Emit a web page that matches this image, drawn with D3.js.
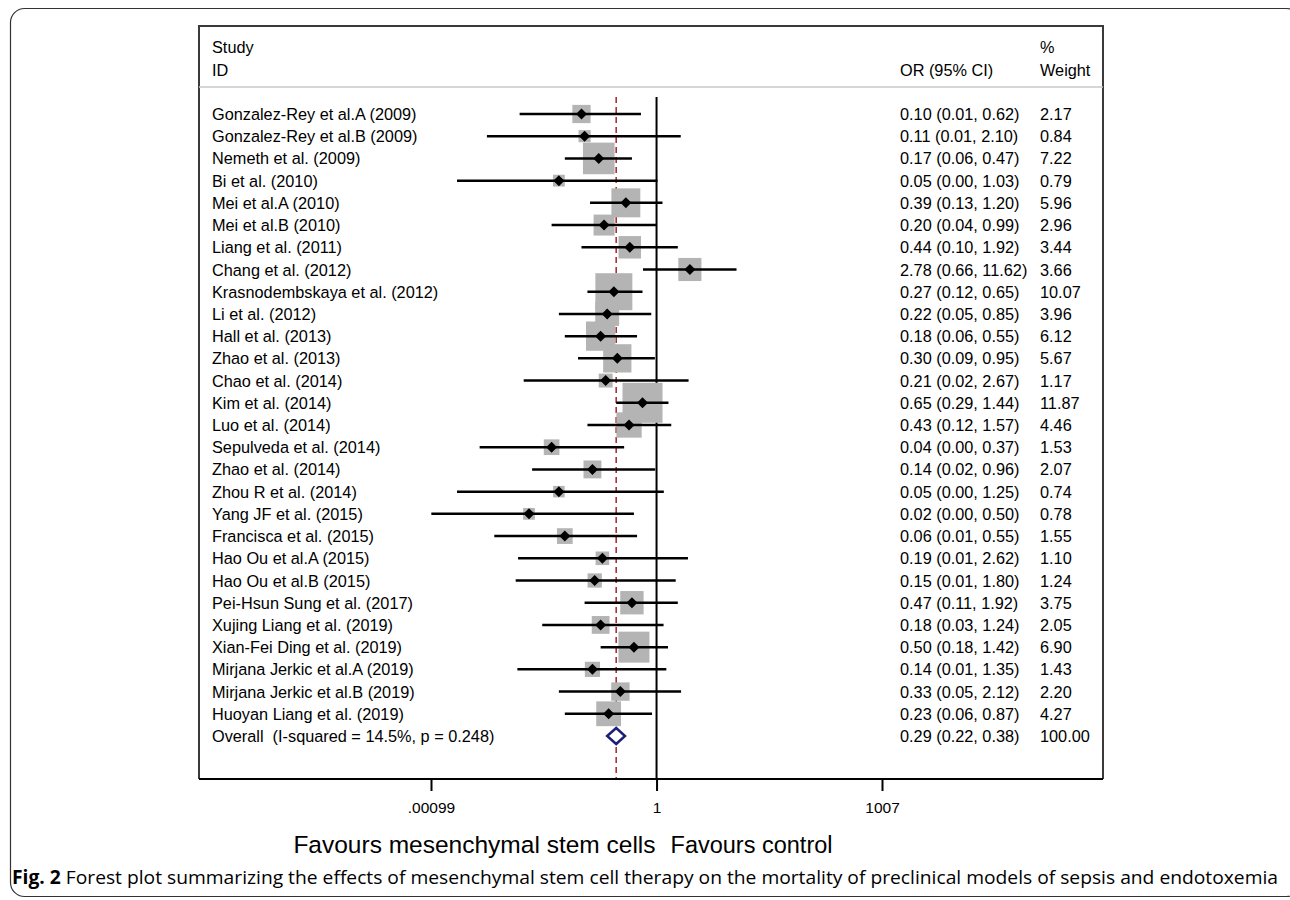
<!DOCTYPE html>
<html>
<head>
<meta charset="utf-8">
<script src="https://cdn.jsdelivr.net/npm/d3@7/dist/d3.min.js"></script>
<style>
  html, body { margin: 0; padding: 0; background: #fff; }
  svg { display: block; }
  text { font-family: "Liberation Sans", Arial, sans-serif; fill: #000; white-space: pre; }
</style>
</head>
<body>
<svg id="chart" width="1290" height="900"></svg>
<script>
// ---- Data ----
const studies = [
  "Gonzalez-Rey et al.A (2009)", "Gonzalez-Rey et al.B (2009)", "Nemeth et al. (2009)",
  "Bi et al. (2010)", "Mei et al.A (2010)", "Mei et al.B (2010)", "Liang et al. (2011)",
  "Chang et al. (2012)", "Krasnodembskaya et al. (2012)", "Li et al. (2012)",
  "Hall et al. (2013)", "Zhao et al. (2013)", "Chao et al. (2014)", "Kim et al. (2014)",
  "Luo et al. (2014)", "Sepulveda et al. (2014)", "Zhao et al. (2014)", "Zhou R et al. (2014)",
  "Yang JF et al. (2015)", "Francisca et al. (2015)", "Hao Ou et al.A (2015)",
  "Hao Ou et al.B (2015)", "Pei-Hsun Sung et al. (2017)", "Xujing Liang et al. (2019)",
  "Xian-Fei Ding et al. (2019)", "Mirjana Jerkic et al.A (2019)",
  "Mirjana Jerkic et al.B (2019)", "Huoyan Liang et al. (2019)"
];
const oddsRatio = [0.10, 0.11, 0.17, 0.05, 0.39, 0.20, 0.44, 2.78, 0.27, 0.22,
  0.18, 0.30, 0.21, 0.65, 0.43, 0.04, 0.14, 0.05, 0.02, 0.06,
  0.19, 0.15, 0.47, 0.18, 0.50, 0.14, 0.33, 0.23];
const ciLower = [0.015, 0.0055, 0.06, 0.0022, 0.13, 0.04, 0.10, 0.66, 0.12, 0.05,
  0.06, 0.09, 0.017, 0.29, 0.12, 0.0044, 0.022, 0.0022, 0.001, 0.0069,
  0.0143, 0.0133, 0.11, 0.03, 0.18, 0.014, 0.05, 0.06];
const ciUpper = [0.62, 2.10, 0.47, 1.03, 1.20, 0.99, 1.92, 11.62, 0.65, 0.85,
  0.55, 0.95, 2.67, 1.44, 1.57, 0.37, 0.96, 1.25, 0.50, 0.55,
  2.62, 1.80, 1.92, 1.24, 1.42, 1.35, 2.12, 0.87];
const orLabels = [
  "0.10 (0.01, 0.62)", "0.11 (0.01, 2.10)", "0.17 (0.06, 0.47)", "0.05 (0.00, 1.03)",
  "0.39 (0.13, 1.20)", "0.20 (0.04, 0.99)", "0.44 (0.10, 1.92)", "2.78 (0.66, 11.62)",
  "0.27 (0.12, 0.65)", "0.22 (0.05, 0.85)", "0.18 (0.06, 0.55)", "0.30 (0.09, 0.95)",
  "0.21 (0.02, 2.67)", "0.65 (0.29, 1.44)", "0.43 (0.12, 1.57)", "0.04 (0.00, 0.37)",
  "0.14 (0.02, 0.96)", "0.05 (0.00, 1.25)", "0.02 (0.00, 0.50)", "0.06 (0.01, 0.55)",
  "0.19 (0.01, 2.62)", "0.15 (0.01, 1.80)", "0.47 (0.11, 1.92)", "0.18 (0.03, 1.24)",
  "0.50 (0.18, 1.42)", "0.14 (0.01, 1.35)", "0.33 (0.05, 2.12)", "0.23 (0.06, 0.87)"
];
const weights = [2.17, 0.84, 7.22, 0.79, 5.96, 2.96, 3.44, 3.66, 10.07, 3.96,
  6.12, 5.67, 1.17, 11.87, 4.46, 1.53, 2.07, 0.74, 0.78, 1.55,
  1.10, 1.24, 3.75, 2.05, 6.90, 1.43, 2.20, 4.27];
const overallLabel = "Overall  (I-squared = 14.5%, p = 0.248)";
const overall = { or: 0.29, lo: 0.22, hi: 0.38, text: "0.29 (0.22, 0.38)", weight: "100.00" };
const tickValues = [0.00099, 1, 1007];
const tickLabels = [".00099", "1", "1007"];
const favoursLeft = "Favours mesenchymal stem cells";
const favoursRight = "Favours control";
const captionBold = "Fig. 2";
const captionText = " Forest plot summarizing the effects of mesenchymal stem cell therapy on the mortality of preclinical models of sepsis and endotoxemia";

// ---- Layout ----
const svg = d3.select("#chart");
const box = { left: 199, right: 1103, top: 26, bottom: 779 };
const x = d3.scaleLog().domain([0.00099, 1007]).range([431, 882]);
const rowKeys = studies.concat([overallLabel]);
const y = d3.scalePoint().domain(rowKeys).range([114, 736]);
const side = d3.scaleSqrt().domain([0, d3.max(weights)]).range([2, 40]);
const plotTop = 97;
const FS = 16.3;

// outer rounded frame
svg.append("rect")
  .attr("x", 10.5).attr("y", 8.5).attr("width", 1290).attr("height", 888)
  .attr("rx", 14).attr("fill", "none").attr("stroke", "#333").attr("stroke-width", 1.2);

// plot box (top, left, right)
svg.append("path")
  .attr("d", `M${box.left},${box.bottom} V${box.top} H${box.right} V${box.bottom}`)
  .attr("fill", "none").attr("stroke", "#3a3a3a").attr("stroke-width", 2);

// header separator
svg.append("line")
  .attr("x1", box.left).attr("x2", box.right).attr("y1", 87).attr("y2", 87)
  .attr("stroke", "#c8c8c8").attr("stroke-width", 1.5);

// headers
const hdr = svg.append("g").attr("font-size", FS);
hdr.append("text").attr("x", 212).attr("y", 53).text("Study");
hdr.append("text").attr("x", 212).attr("y", 76).text("ID");
hdr.append("text").attr("x", 900).attr("y", 76).text("OR (95% CI)");
hdr.append("text").attr("x", 1040).attr("y", 53).text("%");
hdr.append("text").attr("x", 1040).attr("y", 76).text("Weight");

// overall estimate dashed line
svg.append("line")
  .attr("x1", x(overall.or)).attr("x2", x(overall.or))
  .attr("y1", plotTop).attr("y2", box.bottom)
  .attr("stroke", "#a8323e").attr("stroke-width", 1.6).attr("stroke-dasharray", "6,4");

// null line at OR = 1
svg.append("line")
  .attr("x1", x(1)).attr("x2", x(1)).attr("y1", plotTop).attr("y2", box.bottom)
  .attr("stroke", "#000").attr("stroke-width", 2);

const idx = d3.range(studies.length);

// weight boxes
svg.append("g").selectAll("rect").data(idx).join("rect")
  .attr("x", i => x(oddsRatio[i]) - side(weights[i]) / 2)
  .attr("y", i => y(studies[i]) - side(weights[i]) / 2)
  .attr("width", i => side(weights[i]))
  .attr("height", i => side(weights[i]))
  .attr("fill", "#b4b4b4");

// CI lines
svg.append("g").selectAll("line").data(idx).join("line")
  .attr("x1", i => x(ciLower[i])).attr("x2", i => x(ciUpper[i]))
  .attr("y1", i => y(studies[i])).attr("y2", i => y(studies[i]))
  .attr("stroke", "#000").attr("stroke-width", 2.5);

// point diamonds
svg.append("g").selectAll("path").data(idx).join("path")
  .attr("d", i => {
    const cx = x(oddsRatio[i]), cy = y(studies[i]), r = 5.5;
    return `M${cx - r},${cy} L${cx},${cy - r} L${cx + r},${cy} L${cx},${cy + r} Z`;
  })
  .attr("fill", "#000");

// overall diamond
{
  const cy = y(overallLabel);
  svg.append("path")
    .attr("d", `M${x(overall.lo)},${cy} L${x(overall.or)},${cy - 8} L${x(overall.hi)},${cy} L${x(overall.or)},${cy + 8} Z`)
    .attr("fill", "#fff").attr("stroke", "#1c1f7a").attr("stroke-width", 2.5);
}

// row labels
const lab = svg.append("g").attr("font-size", FS);
lab.selectAll("text.study").data(rowKeys).join("text").attr("class", "study")
  .attr("x", 212).attr("y", d => y(d) + 6).text(d => d);
lab.selectAll("text.orl").data(orLabels.concat([overall.text])).join("text").attr("class", "orl")
  .attr("x", 900).attr("y", (d, i) => y(rowKeys[i]) + 6).text(d => d);
lab.selectAll("text.wt").data(weights.map(w => w.toFixed(2)).concat([overall.weight])).join("text").attr("class", "wt")
  .attr("x", 1040).attr("y", (d, i) => y(rowKeys[i]) + 6).text(d => d);

// x axis
const axis = d3.axisBottom(x).tickValues(tickValues)
  .tickFormat((d, i) => tickLabels[i]).tickSize(12).tickPadding(11);
const ag = svg.append("g").attr("transform", `translate(0,${box.bottom})`).call(axis);
ag.select(".domain").remove();
ag.selectAll(".tick line").attr("stroke", "#000").attr("stroke-width", 2);
ag.selectAll(".tick text").attr("font-size", 15.5)
  .attr("font-family", "Liberation Sans, Arial, sans-serif").attr("fill", "#000");
svg.append("line").attr("x1", box.left).attr("x2", box.right)
  .attr("y1", box.bottom).attr("y2", box.bottom)
  .attr("stroke", "#000").attr("stroke-width", 2.2);

// favours labels
svg.append("text").attr("x", x(1) - 1).attr("y", 853).attr("text-anchor", "end")
  .attr("font-size", 24.5).text(favoursLeft);
svg.append("text").attr("x", x(1) + 14).attr("y", 853).attr("text-anchor", "start")
  .attr("font-size", 23.5).text(favoursRight);

// caption
const cap = svg.append("text").attr("x", 12).attr("y", 884)
  .attr("font-size", 19).style("font-family", "'Open Sans', 'DejaVu Sans', sans-serif")
  .attr("textLength", 1266).attr("lengthAdjust", "spacingAndGlyphs");
cap.append("tspan").attr("font-weight", "bold").text(captionBold);
cap.append("tspan").text(captionText);
</script>
</body>
</html>
